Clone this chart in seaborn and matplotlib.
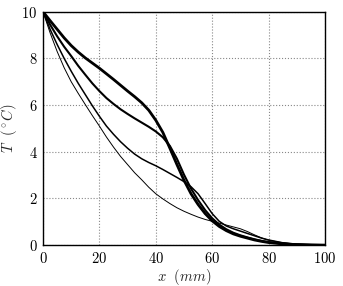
import matplotlib
matplotlib.use('Agg')
import matplotlib.pyplot as plt
import numpy as np
import pandas as pd
import seaborn as sns

# posiciones x (mm)
x_mm = [0, 2.5, 5, 7.5, 10, 12.5, 15, 17.5, 20, 22.5, 25, 27.5, 30, 32.5, 35, 37.5,
        40, 42.5, 45, 47.5, 50, 52.5, 55, 57.5, 60, 62.5, 65, 67.5, 70, 72.5, 75, 77.5,
        80, 85, 90, 95, 100]

# temperaturas, de la curva mas gruesa a la mas fina
T_a = [10, 9.62, 9.25, 8.88, 8.55, 8.27, 8.02, 7.8, 7.58, 7.34, 7.1, 6.85, 6.6, 6.36, 6.1, 5.78,
       5.35, 4.83, 4.15, 3.45, 2.78, 2.2, 1.74, 1.35, 1.04, 0.8, 0.62, 0.48, 0.38, 0.3, 0.22, 0.16,
       0.11, 0.05, 0.02, 0.008, 0.0]
T_b = [10, 9.45, 8.95, 8.5, 8.1, 7.68, 7.3, 6.93, 6.6, 6.3, 6.05, 5.82, 5.62, 5.43, 5.25, 5.07,
       4.87, 4.62, 4.25, 3.7, 3.02, 2.42, 1.93, 1.5, 1.15, 0.88, 0.68, 0.53, 0.42, 0.33, 0.25, 0.18,
       0.13, 0.06, 0.025, 0.01, 0.0]
T_c = [10, 9.25, 8.6, 8.0, 7.45, 6.93, 6.45, 5.97, 5.52, 5.1, 4.75, 4.43, 4.15, 3.9, 3.7, 3.54,
       3.4, 3.24, 3.07, 2.9, 2.72, 2.5, 2.2, 1.78, 1.35, 1.02, 0.82, 0.7, 0.6, 0.5, 0.4, 0.3,
       0.22, 0.1, 0.04, 0.015, 0.0]
T_d = [10, 9.1, 8.3, 7.6, 7.0, 6.5, 6.02, 5.55, 5.1, 4.63, 4.2, 3.8, 3.45, 3.1, 2.8, 2.48,
       2.2, 1.98, 1.78, 1.6, 1.45, 1.32, 1.2, 1.1, 1.02, 0.94, 0.86, 0.78, 0.7, 0.58, 0.44, 0.31,
       0.21, 0.1, 0.04, 0.015, 0.0]

curvas = [T_a, T_b, T_c, T_d]
grosores = [2.0, 1.5, 1.1, 0.7]

sns.set_style('white')
plt.rcParams['font.family'] = ['cmr10', 'DejaVu Serif']
plt.rcParams['mathtext.fontset'] = 'cm'
plt.rcParams['axes.formatter.use_mathtext'] = True

fig = plt.figure(figsize=(3.43, 2.86), dpi=100)
ax = fig.add_axes([0.1254, 0.143, 0.822, 0.816])

for T, lw in zip(curvas, grosores):
    df = pd.DataFrame({'x': x_mm, 'T': T})
    sns.lineplot(data=df, x='x', y='T', ax=ax, color='black', linewidth=lw)

ax.set_xlim(0, 100)
ax.set_ylim(0, 10)
ax.set_xticks([0, 20, 40, 60, 80, 100])
ax.set_yticks([0, 2, 4, 6, 8, 10])
ax.grid(True, linestyle=':', color='#888888', linewidth=0.8)
ax.tick_params(length=0, labelsize=10.5, pad=4, colors='black')
for s in ax.spines.values():
    s.set_color('black')
    s.set_linewidth(1.0)

ax.set_xlabel(r'$x\ \ (mm)$', fontsize=10.5, labelpad=1)
ax.set_ylabel(r'$T\ \ (^\circ C)$', fontsize=10.5, labelpad=2)

plt.savefig('out.png', dpi=100)
